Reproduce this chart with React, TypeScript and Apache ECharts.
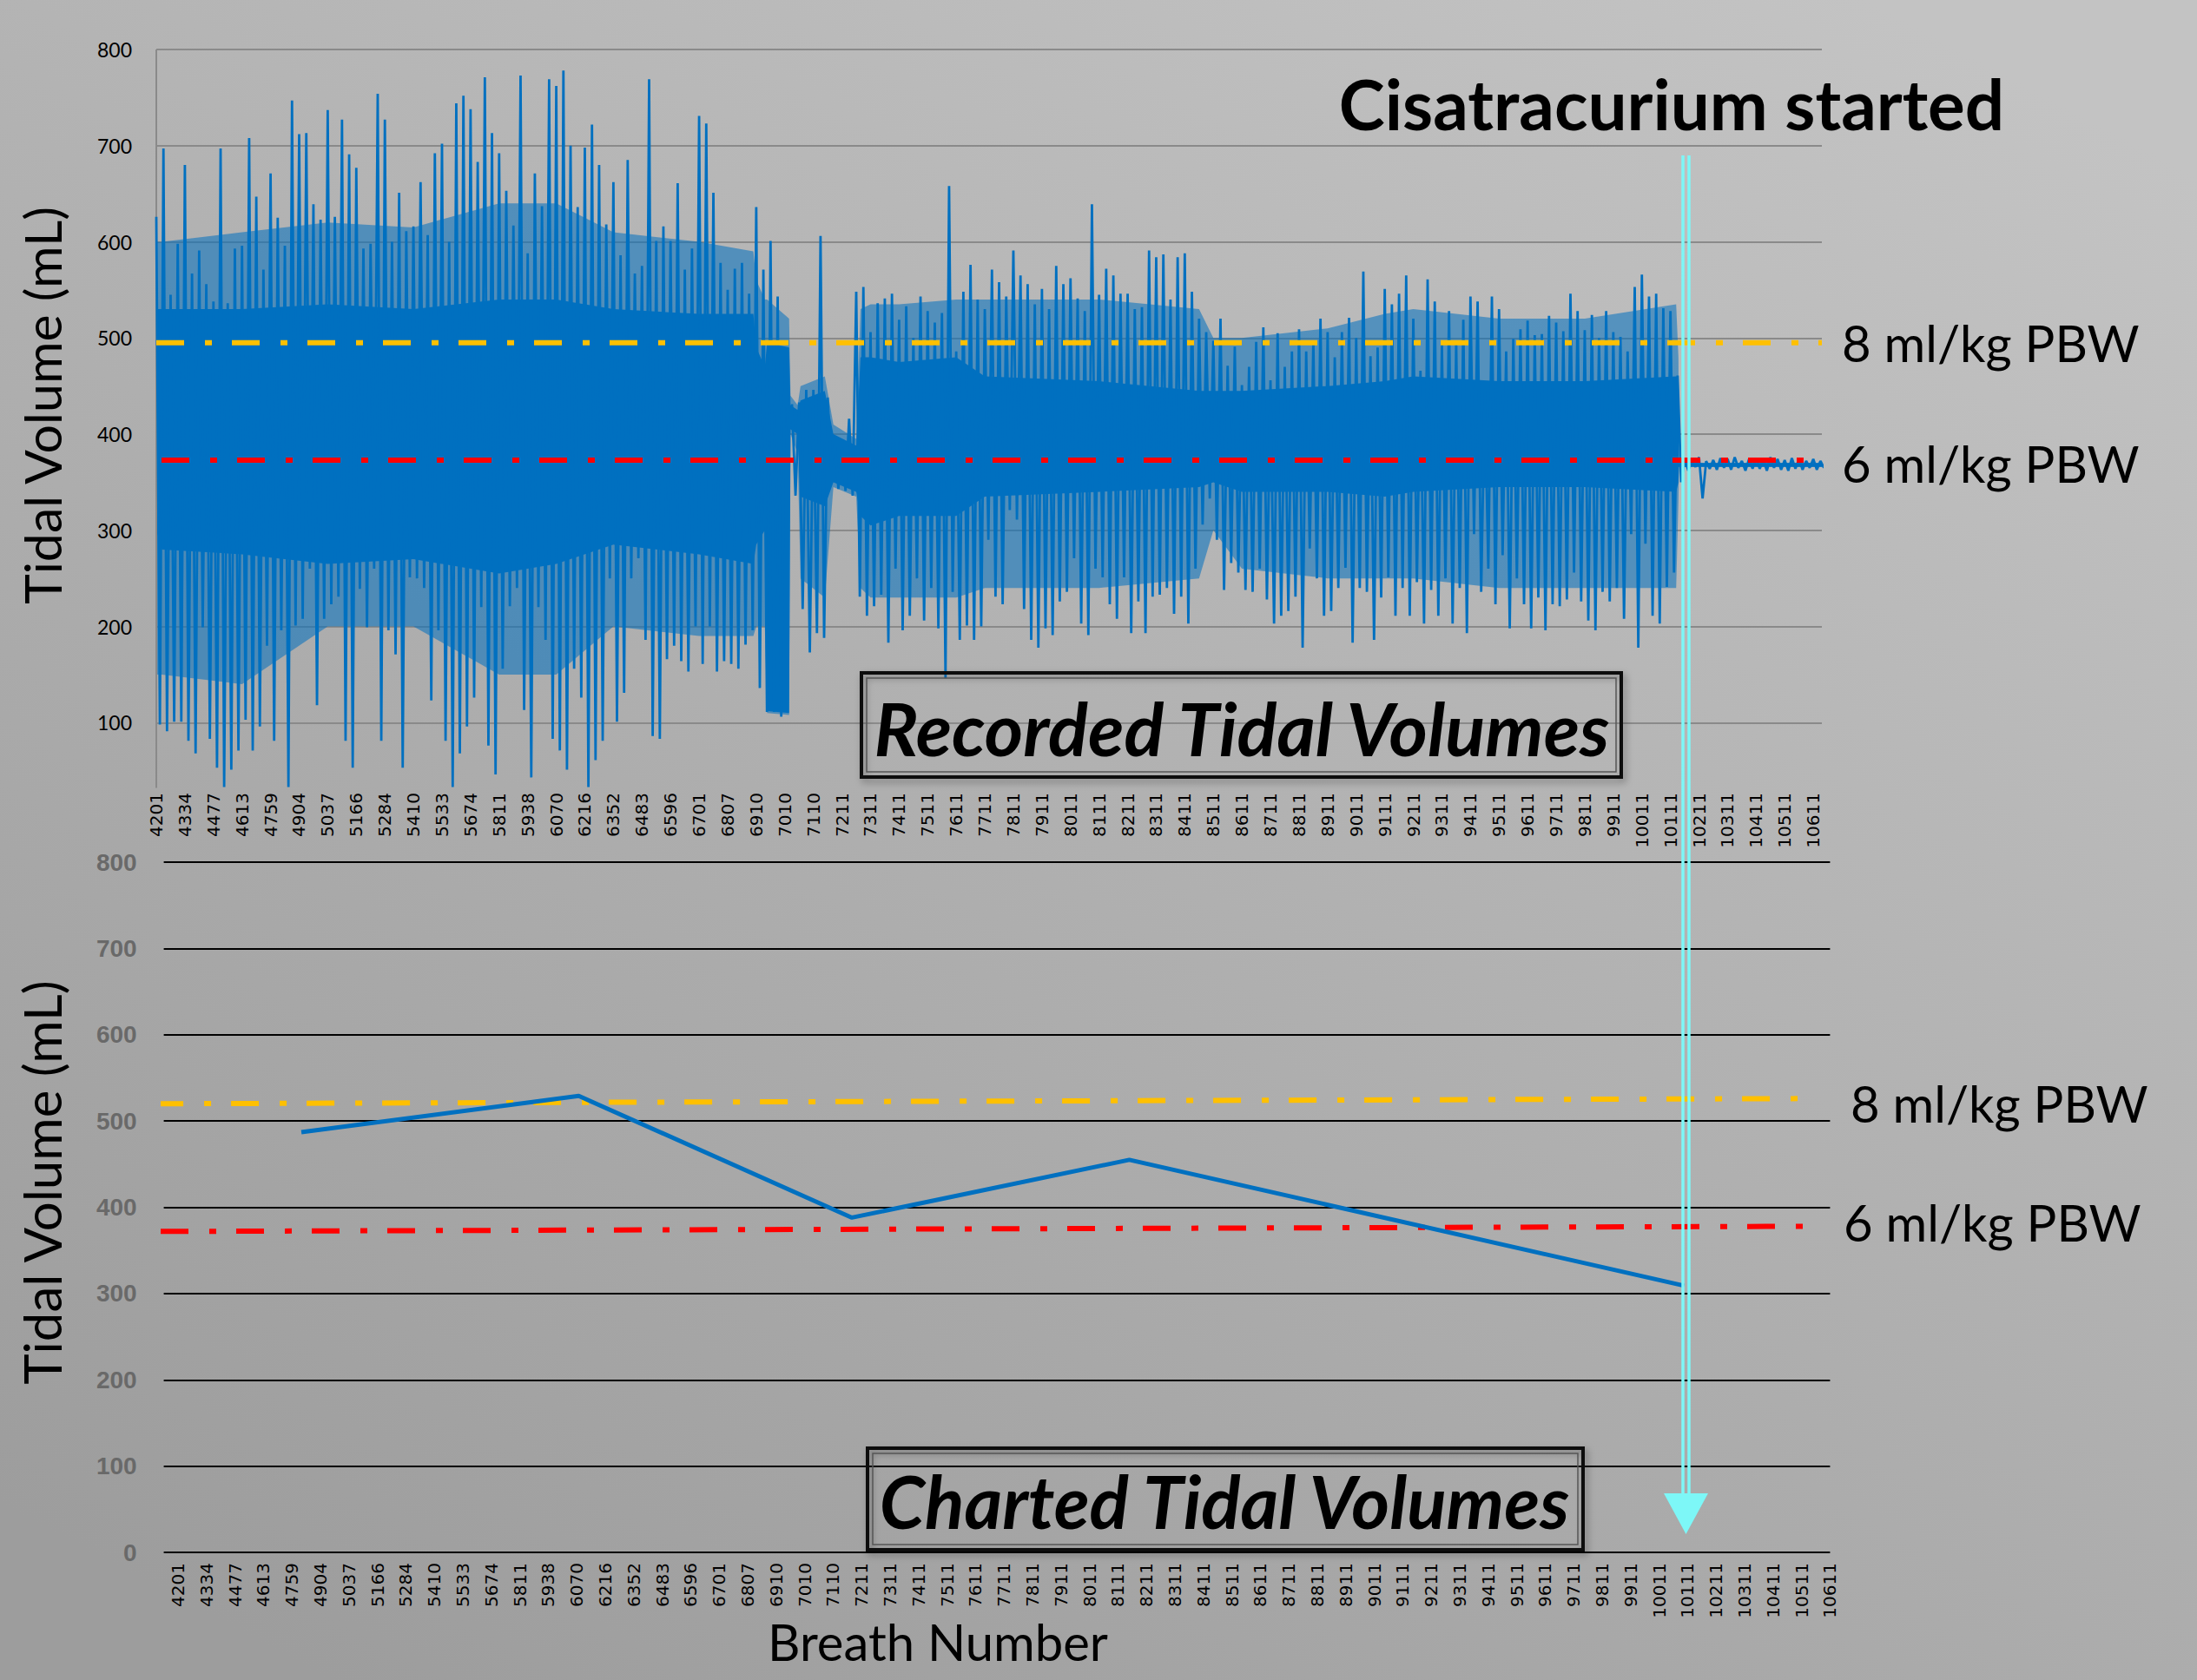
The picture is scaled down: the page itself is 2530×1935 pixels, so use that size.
import React, { useEffect, useRef } from "react";
import * as echarts from "echarts";

// ---------------- DATA ----------------
const breathLabels = [
  "4201", "4334", "4477", "4613", "4759", "4904", "5037", "5166", "5284", "5410",
  "5533", "5674", "5811", "5938", "6070", "6216", "6352", "6483", "6596", "6701",
  "6807", "6910", "7010", "7110", "7211", "7311", "7411", "7511", "7611", "7711",
  "7811", "7911", "8011", "8111", "8211", "8311", "8411", "8511", "8611", "8711",
  "8811", "8911", "9011", "9111", "9211", "9311", "9411", "9511", "9611", "9711",
  "9811", "9911", "10011", "10111", "10211", "10311", "10411", "10511", "10611",
];

// Recorded tidal volumes: peaks and troughs, 4 per label interval
const recordedPeaks = [
  626, 697, 545, 598, 680, 567, 591, 556, 538, 697, 536, 593, 596, 708, 647, 571,
  671, 625, 596, 747, 712, 713, 639, 623, 737, 626, 727, 691, 677, 593, 598, 754,
  727, 600, 651, 611, 616, 662, 607, 692, 702, 600, 744, 752, 738, 683, 771, 713,
  692, 653, 617, 773, 588, 671, 637, 769, 762, 778, 700, 636, 698, 722, 680, 618,
  662, 586, 685, 567, 575, 769, 601, 616, 601, 661, 571, 593, 731, 723, 651, 578,
  550, 572, 578, 546, 636, 571, 601, 543, 476, 431, 433, 446, 446, 606, 438, 391,
  386, 416, 548, 553, 506, 536, 541, 546, 519, 533, 500, 543, 528, 516, 526, 658,
  486, 548, 576, 540, 530, 571, 558, 543, 591, 565, 556, 535, 551, 530, 575, 556,
  562, 541, 528, 639, 545, 572, 565, 546, 546, 530, 532, 591, 584, 587, 540, 584,
  588, 548, 520, 506, 497, 520, 471, 491, 451, 470, 496, 511, 456, 505, 470, 486,
  509, 486, 496, 520, 506, 480, 506, 521, 500, 569, 481, 490, 551, 535, 546, 565,
  520, 466, 561, 538, 493, 528, 495, 519, 543, 538, 445, 543, 530, 486, 499, 509,
  518, 503, 504, 523, 516, 507, 546, 528, 508, 524, 500, 528, 506, 501, 486, 553,
  566, 543, 546, 531, 528, 461, 374, 372, 376, 372, 373, 375, 374, 376, 372, 374,
  375, 373, 376, 374, 373, 375, 374, 372, 374, 372,
];
const recordedTroughs = [
  98, 91, 101, 101, 81, 68, 199, 83, 53, 33, 51, 71, 103, 71, 96, 180,
  81, 196, 33, 201, 208, 260, 118, 208, 223, 231, 81, 53, 239, 199, 260, 81,
  196, 171, 53, 251, 250, 240, 123, 196, 81, 33, 68, 96, 126, 220, 76, 46,
  156, 221, 240, 113, 43, 220, 186, 83, 71, 51, 156, 126, 33, 61, 81, 250,
  101, 131, 250, 271, 186, 86, 83, 166, 180, 164, 153, 200, 161, 200, 153, 164,
  161, 156, 181, 196, 136, 111, 111, 106, 400, 336, 218, 173, 193, 188, 366, 343,
  341, 336, 231, 211, 221, 233, 183, 260, 196, 211, 250, 206, 240, 198, 146, 236,
  186, 201, 186, 200, 290, 231, 223, 321, 311, 218, 186, 178, 198, 191, 226, 236,
  271, 203, 191, 260, 251, 223, 208, 251, 193, 226, 193, 231, 233, 240, 213, 231,
  203, 260, 306, 333, 290, 238, 266, 256, 238, 236, 260, 228, 203, 211, 216, 231,
  178, 281, 250, 211, 216, 240, 261, 183, 240, 236, 186, 230, 251, 211, 240, 211,
  246, 203, 238, 211, 250, 203, 240, 193, 296, 236, 260, 223, 274, 198, 250, 223,
  198, 230, 196, 223, 221, 228, 256, 226, 206, 196, 236, 226, 240, 208, 296, 178,
  286, 211, 203, 241, 256, 350, 362, 366, 333, 364, 363, 365, 363, 365, 362, 364,
  364, 362, 365, 363, 362, 364, 363, 365, 363, 365,
];

// Row positions where the density of the recorded signal changes
const bandRow = [
  0, 20, 300, 600, 900, 1200, 1400, 1600, 1900, 2090,
  2100, 2130, 2138, 2215, 2220, 2245, 2255, 2340, 2370, 2450,
  2465, 2500, 2600, 2800, 2900, 3300, 3650, 3700, 3800, 4100,
  4300, 4400, 4700, 5000, 5320, 5328, 5330, 5830,
];
// Solid core (upper / lower edge)
const coreHi = [
  530, 530, 530, 535, 530, 540, 540, 530, 525, 525,
  490, 470, 495, 490, 430, 425, 435, 445, 400, 388,
  480, 480, 475, 480, 460, 455, 445, 445, 445, 450,
  455, 460, 455, 455, 460, 460, 370, 370,
];
const coreLo = [
  300, 280, 275, 265, 270, 255, 265, 285, 275, 265,
  285, 300, 112, 110, 405, 400, 335, 325, 350, 340,
  315, 305, 315, 315, 335, 340, 345, 350, 340, 340,
  335, 340, 345, 345, 340, 350, 366, 366,
];
// Partly filled envelope around the core (upper / lower edge)
const envHi = [
  600, 600, 610, 620, 615, 640, 640, 610, 600, 590,
  560, 540, 540, 520, 440, 430, 450, 460, 410, 395,
  530, 535, 535, 540, 540, 540, 530, 500, 500, 510,
  525, 530, 520, 520, 535, 480, 370, 370,
];
const envLo = [
  150, 150, 140, 200, 200, 150, 150, 200, 190, 190,
  200, 200, 110, 108, 400, 380, 250, 230, 345, 335,
  240, 230, 230, 230, 240, 240, 250, 300, 260, 250,
  250, 250, 240, 240, 240, 330, 366, 366,
];

// Charted tidal volumes (row position on the breath axis, mL)
const chartedRow = [433, 1407, 2366, 3340, 5288];
const chartedTV = [487, 529, 388, 455, 309];

// 8 and 6 ml/kg PBW reference levels
const pbw8Top = 495;
const pbw6Top = 373;
const pbw8Bottom = [520, 526];
const pbw6Bottom = [372, 378];

// ---------------- STYLE ----------------
const BLUE = "#0070C0";
const YELLOW = "#FFC000";
const RED = "#FF0000";
const CYAN = "#7DF7F7";
const DASH = [32, 24, 8, 23];
const SANS = "Lato, 'Open Sans', sans-serif";
const LABEL_FONT = "'DejaVu Sans', sans-serif";

export default function App() {
  const ref = useRef<HTMLDivElement>(null);

  useEffect(() => {
    if (!ref.current) return;
    const chart = echarts.init(ref.current, null, { renderer: "svg" });

    const zigzag: number[][] = [];
    recordedPeaks.forEach((h, j) => {
      zigzag.push([j * 25, h]);
      if (j < recordedTroughs.length) zigzag.push([j * 25 + 12.5, recordedTroughs[j]]);
    });

    const breathLabel = (v: number) => {
      const i = v / 100;
      return Number.isInteger(i) && breathLabels[i] ? breathLabels[i] : "";
    };

    const xLabelStyle = {
      rotate: 90,
      fontFamily: LABEL_FONT,
      fontSize: 20,
      color: "#000",
    };

    const option: any = {
      animation: false,
      backgroundColor: {
        type: "linear",
        x: 0.85,
        y: 0,
        x2: 0.15,
        y2: 1,
        colorStops: [
          { offset: 0, color: "#c3c3c3" },
          { offset: 1, color: "#9d9d9d" },
        ],
      },
      grid: [
        { left: 180, top: 57, width: 1918, height: 886, outerBoundsMode: "none" },
        { left: 188.6, top: 993, width: 1918.8, height: 795, outerBoundsMode: "none" },
      ],
      xAxis: [
        {
          gridIndex: 0,
          type: "value",
          min: 0,
          max: 5830,
          interval: 100,
          offset: -38,
          axisLine: { show: false },
          axisTick: { show: false },
          splitLine: { show: false },
          axisLabel: { ...xLabelStyle, margin: 8, formatter: breathLabel },
        },
        {
          gridIndex: 1,
          type: "value",
          min: -50,
          max: 5800,
          interval: 50,
          axisLine: { show: false },
          axisTick: { show: false },
          splitLine: { show: false },
          axisLabel: { ...xLabelStyle, margin: 12, formatter: breathLabel },
        },
      ],
      yAxis: [
        {
          gridIndex: 0,
          type: "value",
          min: 0,
          max: 800,
          interval: 100,
          axisLine: { show: false },
          axisTick: { show: false },
          axisLabel: {
            fontFamily: SANS,
            fontSize: 23,
            color: "#000",
            margin: 28,
            formatter: (v: number) => (v === 0 ? "" : String(v)),
          },
          splitLine: {
            show: true,
            showMinLine: false,
            lineStyle: { color: "#8a8a8a", width: 2 },
          },
        },
        {
          gridIndex: 1,
          type: "value",
          min: 0,
          max: 800,
          interval: 100,
          axisLine: { show: false },
          axisTick: { show: false },
          axisLabel: {
            fontFamily: "'Liberation Sans', Arial, sans-serif",
            fontWeight: "bold",
            fontSize: 28,
            color: "#696969",
            margin: 31,
          },
          splitLine: { show: true, lineStyle: { color: "#000", width: 2 } },
        },
      ],
      series: [
        {
          type: "line",
          xAxisIndex: 0,
          yAxisIndex: 0,
          data: [
            [0, 800],
            [0, 32],
          ],
          symbol: "none",
          lineStyle: { color: "#8a8a8a", width: 2 },
          silent: true,
        },
        {
          type: "custom",
          xAxisIndex: 0,
          yAxisIndex: 0,
          data: [[0, 0]],
          clip: true,
          silent: true,
          renderItem: (params: any, api: any) => {
            const band = (hi: number[], lo: number[]) =>
              bandRow
                .map((r, i) => api.coord([r, hi[i]]))
                .concat(bandRow.map((r, i) => api.coord([r, lo[i]])).reverse());
            return {
              type: "group",
              children: [
                { type: "polygon", shape: { points: band(envHi, envLo) }, style: { fill: BLUE, opacity: 0.55 } },
                { type: "polygon", shape: { points: band(coreHi, coreLo) }, style: { fill: BLUE } },
              ],
            };
          },
        },
        {
          type: "line",
          xAxisIndex: 0,
          yAxisIndex: 0,
          data: zigzag,
          symbol: "none",
          lineStyle: { color: BLUE, width: 2.8 },
          silent: true,
        },
        {
          type: "line",
          xAxisIndex: 0,
          yAxisIndex: 0,
          data: [
            [0, pbw8Top],
            [5830, pbw8Top],
          ],
          symbol: "none",
          lineStyle: { color: YELLOW, width: 6, type: DASH, cap: "butt" },
          silent: true,
        },
        {
          type: "line",
          xAxisIndex: 0,
          yAxisIndex: 0,
          data: [
            [0, pbw6Top],
            [5830, pbw6Top],
          ],
          symbol: "none",
          lineStyle: { color: RED, width: 6, type: DASH, cap: "butt", dashOffset: -6 },
          silent: true,
        },
        {
          type: "line",
          xAxisIndex: 1,
          yAxisIndex: 1,
          clip: false,
          data: [
            [-79, pbw8Bottom[0]],
            [5750, pbw8Bottom[1]],
          ],
          symbol: "none",
          lineStyle: { color: YELLOW, width: 6, type: DASH, cap: "butt" },
          silent: true,
        },
        {
          type: "line",
          xAxisIndex: 1,
          yAxisIndex: 1,
          clip: false,
          data: [
            [-61, pbw6Bottom[0]],
            [5771, pbw6Bottom[1]],
          ],
          symbol: "none",
          lineStyle: { color: RED, width: 6, type: DASH, cap: "butt" },
          silent: true,
        },
        {
          type: "line",
          xAxisIndex: 1,
          yAxisIndex: 1,
          data: chartedRow.map((r, i) => [r, chartedTV[i]]),
          symbol: "none",
          lineStyle: { color: BLUE, width: 5 },
          silent: true,
        },
      ],
      graphic: [
        // cyan arrow: Cisatracurium start
        { type: "line", z: 50, shape: { x1: 1938, y1: 179, x2: 1938, y2: 1722 }, style: { stroke: CYAN, lineWidth: 3.5 } },
        { type: "line", z: 50, shape: { x1: 1945, y1: 179, x2: 1945, y2: 1722 }, style: { stroke: CYAN, lineWidth: 3.5 } },
        {
          type: "polygon",
          z: 50,
          shape: { points: [[1916, 1720], [1967, 1720], [1941.5, 1767]] },
          style: { fill: CYAN },
        },
        // title boxes
        {
          type: "rect",
          z: 40,
          shape: { x: 992, y: 775, width: 875, height: 120 },
          style: { fill: "none", stroke: "#111", lineWidth: 4, shadowBlur: 8, shadowOffsetX: 3, shadowOffsetY: 4, shadowColor: "rgba(0,0,0,0.35)" },
        },
        {
          type: "rect",
          z: 40,
          shape: { x: 998, y: 781, width: 863, height: 108 },
          style: { fill: "none", stroke: "#555", lineWidth: 1.5 },
        },
        {
          type: "rect",
          z: 40,
          shape: { x: 999, y: 1668, width: 824, height: 117 },
          style: { fill: "none", stroke: "#111", lineWidth: 4, shadowBlur: 8, shadowOffsetX: 3, shadowOffsetY: 4, shadowColor: "rgba(0,0,0,0.35)" },
        },
        {
          type: "rect",
          z: 40,
          shape: { x: 1005, y: 1674, width: 812, height: 105 },
          style: { fill: "none", stroke: "#555", lineWidth: 1.5 },
        },
        ...[
          { text: "Recorded Tidal Volumes", x: 1430, y: 838, size: 85, weight: "bold", italic: true, rot: 0 },
          { text: "Charted Tidal Volumes", x: 1410, y: 1728, size: 84, weight: "bold", italic: true, rot: 0 },
          { text: "Cisatracurium started", x: 1925, y: 119, size: 80, weight: "bold", italic: false, rot: 0 },
          { text: "Tidal Volume (mL)", x: 48, y: 467, size: 59, weight: "normal", italic: false, rot: Math.PI / 2 },
          { text: "Tidal Volume (mL)", x: 48, y: 1362, size: 60, weight: "normal", italic: false, rot: Math.PI / 2 },
          { text: "Breath Number", x: 1080, y: 1890, size: 58, weight: "normal", italic: false, rot: 0 },
        ].map((t) => ({
          type: "text",
          z: 60,
          x: t.x,
          y: t.y,
          rotation: t.rot,
          style: {
            text: t.text,
            fontFamily: SANS,
            fontSize: t.size,
            fontWeight: t.weight,
            fontStyle: t.italic ? "italic" : "normal",
            fill: "#000",
            align: "center",
            verticalAlign: "middle",
            textAlign: "center",
            textVerticalAlign: "middle",
          },
        })),
        ...[
          { text: "8 ml/kg PBW", x: 2121, y: 394 },
          { text: "6 ml/kg PBW", x: 2121, y: 533 },
          { text: "8 ml/kg PBW", x: 2131, y: 1270 },
          { text: "6 ml/kg PBW", x: 2123, y: 1407 },
        ].map((t) => ({
          type: "text",
          z: 60,
          x: t.x,
          y: t.y,
          style: {
            text: t.text,
            fontFamily: SANS,
            fontSize: 58,
            fill: "#000",
            align: "left",
            verticalAlign: "middle",
            textAlign: "left",
            textVerticalAlign: "middle",
          },
        })),
      ],
    };

    chart.setOption(option);
    return () => chart.dispose();
  }, []);

  return (
    <div
      ref={ref}
      style={{ position: "fixed", left: 0, top: 0, width: 2530, height: 1935 }}
    />
  );
}
